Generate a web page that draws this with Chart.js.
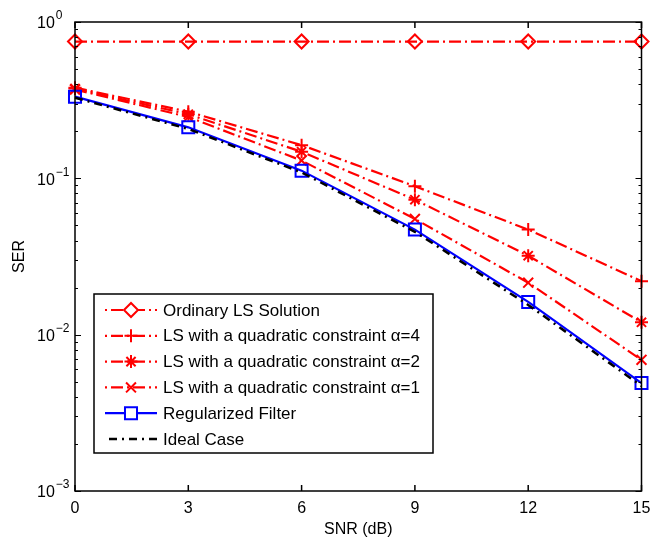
<!DOCTYPE html>
<html>
<head>
<meta charset="utf-8">
<script src="https://cdn.jsdelivr.net/npm/chart.js@4.4.1/dist/chart.umd.min.js"></script>
<style>
  html, body { margin: 0; padding: 0; background: #fff; }
</style>
</head>
<body>
<canvas id="ser-chart" width="652" height="541"></canvas>
<script>
// SNR points (dB) and axis ticks
const snr = [0, 3, 6, 9, 12, 15];
const xTicks = [0, 3, 6, 9, 12, 15];
const yDecades = [-3, -2, -1, 0];

// SER values
const ordinaryLS = [0.75, 0.75, 0.75, 0.75, 0.75, 0.75];
const lsAlpha4 = [0.38, 0.267, 0.163, 0.089, 0.047, 0.022];
const lsAlpha2 = [0.375, 0.257, 0.148, 0.073, 0.032, 0.012];
const lsAlpha1 = [0.37, 0.247, 0.13, 0.055, 0.0215, 0.0069];
const regularized = [0.333, 0.212, 0.112, 0.047, 0.0162, 0.0049];
const ideal = [0.328, 0.207, 0.109, 0.0455, 0.0155, 0.0047];

const seriesNames = [
  "Ordinary LS Solution",
  "LS with a quadratic constraint \u03b1=4",
  "LS with a quadratic constraint \u03b1=2",
  "LS with a quadratic constraint \u03b1=1",
  "Regularized Filter",
  "Ideal Case",
];

const RED = "#ff0000";
const BLUE = "#0000ff";
const dashDot = [12, 4, 2, 4];

function toPoints(values) {
  return snr.map((s, i) => ({ x: s, y: values[i] }));
}

function makeSet(label, values, color, dash, style, radius, order) {
  return {
    label,
    data: toPoints(values),
    borderColor: color,
    borderWidth: 2.2,
    borderDash: dash,
    pointStyle: style || false,
    pointRadius: style ? radius : 0,
    pointBorderWidth: 2,
    pointBorderColor: color,
    pointBackgroundColor: "rgba(0,0,0,0)",
    tension: 0,
    clip: false,
    order: order,
  };
}

// Box, inward ticks and 10^n labels like the MATLAB axes
const axisFrame = {
  id: "axisFrame",
  afterDatasetsDraw(chart) {
    const { ctx, chartArea: a, scales } = chart;
    const x = scales.x, y = scales.y;
    ctx.save();
    ctx.strokeStyle = "#000";
    ctx.lineWidth = 1.5;
    ctx.setLineDash([]);
    ctx.beginPath();
    x.ticks.forEach((t) => {
      const px = x.getPixelForValue(t.value);
      ctx.moveTo(px, a.bottom); ctx.lineTo(px, a.bottom - 6);
      ctx.moveTo(px, a.top); ctx.lineTo(px, a.top + 6);
    });
    ctx.stroke();
    ctx.lineWidth = 1;
    ctx.beginPath();
    y.ticks.forEach((t) => {
      const py = Math.round(y.getPixelForValue(t.value)) + 0.5;
      const lg = Math.log10(t.value);
      const len = Math.abs(lg - Math.round(lg)) < 1e-9 ? 6 : 3;
      ctx.moveTo(a.left, py); ctx.lineTo(a.left + len, py);
      ctx.moveTo(a.right, py); ctx.lineTo(a.right - len, py);
    });
    ctx.stroke();
    ctx.lineWidth = 1.5;
    ctx.strokeRect(a.left, a.top, a.right - a.left, a.bottom - a.top);

    ctx.fillStyle = "#000";
    ctx.textAlign = "left";
    ctx.textBaseline = "middle";
    yDecades.forEach((d) => {
      const py = y.getPixelForValue(Math.pow(10, d));
      ctx.font = "16px Arial";
      ctx.fillText("10", 37, py + 2);
      const w = ctx.measureText("10").width;
      ctx.font = "12px Arial";
      ctx.fillText(d === 0 ? "0" : "\u2212" + (-d), 37 + w + 1, py - 6);
    });
    ctx.restore();
  },
};

// Legend box drawn inside the plot, lower left
const legendBox = {
  id: "legendBox",
  afterDraw(chart) {
    const { ctx, chartArea: a } = chart;
    const left = a.left + 19, top = a.top + 272, w = 339, h = 159;
    ctx.save();
    ctx.fillStyle = "#fff";
    ctx.fillRect(left, top, w, h);
    ctx.strokeStyle = "#000";
    ctx.lineWidth = 1.5;
    ctx.setLineDash([]);
    ctx.strokeRect(left, top, w, h);

    chart.data.datasets.forEach((ds, i) => {
      const cy = top + 16 + i * 25.8;
      const x0 = left + 11, x1 = left + 63;
      ctx.strokeStyle = ds.borderColor;
      ctx.lineWidth = ds.borderWidth;
      ctx.setLineDash(ds.borderDash || []);
      ctx.lineDashOffset = ds.borderDash && ds.borderDash.length ? 16 : 0;
      ctx.beginPath();
      ctx.moveTo(x0, cy);
      ctx.lineTo(x1, cy);
      ctx.stroke();
      ctx.setLineDash([]);
      ctx.lineDashOffset = 0;
      if (ds.pointStyle) {
        ctx.lineWidth = ds.pointBorderWidth;
        ctx.strokeStyle = ds.pointBorderColor;
        ctx.fillStyle = "#fff";
        Chart.helpers.drawPoint(ctx, {
          pointStyle: ds.pointStyle,
          radius: ds.pointRadius,
          borderWidth: ds.pointBorderWidth,
          rotation: 0,
        }, (x0 + x1) / 2, cy);
      }
      ctx.fillStyle = "#000";
      ctx.font = "17px Arial";
      ctx.textAlign = "left";
      ctx.textBaseline = "middle";
      ctx.fillText(ds.label, left + 69, cy + 1);
    });
    ctx.restore();
  },
};

const datasets = [
  makeSet(seriesNames[0], ordinaryLS, RED, dashDot, "rectRot", 7, 2),
  makeSet(seriesNames[1], lsAlpha4, RED, dashDot, "cross", 6.5, 2),
  makeSet(seriesNames[2], lsAlpha2, RED, dashDot, "star", 6.5, 2),
  makeSet(seriesNames[3], lsAlpha1, RED, dashDot, "crossRot", 7, 2),
  makeSet(seriesNames[4], regularized, BLUE, [], "rect", 8.5, 0),
  makeSet(seriesNames[5], ideal, "#000", [8, 5, 2, 5], null, 0, -1),
];
datasets[5].borderWidth = 2.5;

new Chart(document.getElementById("ser-chart"), {
  type: "line",
  data: { datasets },
  options: {
    responsive: false,
    animation: false,
    layout: { padding: { top: 22, right: 10, left: 0, bottom: 0 } },
    plugins: { legend: { display: false }, tooltip: { enabled: false } },
    scales: {
      x: {
        type: "linear",
        min: 0,
        max: 15,
        afterBuildTicks: (scale) => { scale.ticks = xTicks.map((v) => ({ value: v })); },
        afterFit: (scale) => { scale.height = 50; },
        grid: { display: false },
        border: { display: false },
        ticks: { color: "#000", font: { family: "Arial", size: 16 }, padding: 0, maxRotation: 0, autoSkip: false },
        title: { display: true, text: "SNR (dB)", color: "#000", font: { family: "Arial", size: 16 }, padding: { top: 0, bottom: 2 } },
      },
      y: {
        type: "logarithmic",
        min: 0.001,
        max: 1,
        afterBuildTicks: (scale) => {
          const vals = [];
          yDecades.forEach((d) => {
            const steps = d === 0 ? [1] : [1, 2, 3, 4, 5, 6, 7, 8, 9];
            steps.forEach((m) => vals.push(m * Math.pow(10, d)));
          });
          scale.ticks = vals.map((v) => ({ value: v }));
        },
        afterFit: (scale) => { scale.width = 75; },
        grid: { display: false },
        border: { display: false },
        ticks: { display: false },
        title: { display: true, text: "SER", color: "#000", font: { family: "Arial", size: 16 }, padding: { top: 10, bottom: 0 } },
      },
    },
  },
  plugins: [axisFrame, legendBox],
});
</script>
</body>
</html>
